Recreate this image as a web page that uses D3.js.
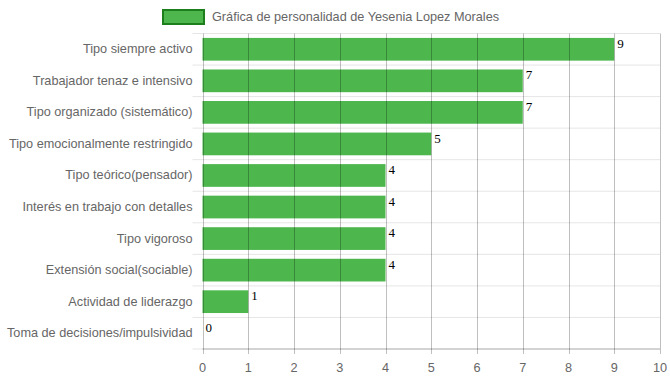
<!DOCTYPE html>
<html>
<head>
<meta charset="utf-8">
<script src="https://cdn.jsdelivr.net/npm/d3@7"></script>
<style>
  body { margin: 0; background: #fff; }
  svg { display: block; font-family: "Liberation Sans", Arial, sans-serif; }
</style>
</head>
<body>
<svg id="chart" width="670" height="377"></svg>
<script>
// chart values
const categories = [
  "Tipo siempre activo",
  "Trabajador tenaz e intensivo",
  "Tipo organizado (sistemático)",
  "Tipo emocionalmente restringido",
  "Tipo teórico(pensador)",
  "Interés en trabajo con detalles",
  "Tipo vigoroso",
  "Extensión social(sociable)",
  "Actividad de liderazgo",
  "Toma de decisiones/impulsividad"
];
const values = [9, 7, 7, 5, 4, 4, 4, 4, 1, 0];
const xTicks = [0, 1, 2, 3, 4, 5, 6, 7, 8, 9, 10];
const seriesName = "Gráfica de personalidad de Yesenia Lopez Morales";

const GREEN = "#4db64d";
const GREEN_BORDER = "#1c7f1c";
const FS = 12.7;

const svg = d3.select("#chart");
const plotL = 202.5, plotR = 660, plotT = 33.5, plotB = 349;

const x = d3.scaleLinear().domain([0, 10]).range([plotL, plotR]);
const y = d3.scaleBand().domain(categories).range([plotT, plotB]);
const barH = y.bandwidth() * 0.72;

// horizontal grid lines (band edges), with small ticks to the left
const edges = d3.range(categories.length + 1).map(i => plotT + i * y.step());
svg.append("g").selectAll("line").data(edges).join("line")
  .attr("x1", plotL - 10).attr("x2", plotR)
  .attr("y1", d => d).attr("y2", d => d)
  .attr("stroke", "rgba(0,0,0,0.1)").attr("stroke-width", 1);

// bars
svg.append("g").selectAll("rect").data(values).join("rect")
  .attr("x", x(0))
  .attr("y", (d, i) => y(categories[i]) + (y.bandwidth() - barH) / 2)
  .attr("width", d => x(d) - x(0))
  .attr("height", barH)
  .attr("fill", GREEN);

// vertical grid lines drawn over the bars
svg.append("g").selectAll("line").data(xTicks).join("line")
  .attr("x1", d => Math.round(x(d)) + 0.5).attr("x2", d => Math.round(x(d)) + 0.5)
  .attr("y1", plotT).attr("y2", plotB + 5)
  .attr("stroke", "rgba(0,0,0,0.25)")
  .attr("stroke-width", 1);

// bottom axis line
svg.append("line")
  .attr("x1", plotL).attr("x2", plotR)
  .attr("y1", plotB).attr("y2", plotB)
  .attr("stroke", "rgba(0,0,0,0.25)");

// x tick labels
svg.append("g").selectAll("text").data(xTicks).join("text")
  .attr("x", d => x(d)).attr("y", 372)
  .attr("text-anchor", "middle")
  .attr("font-size", FS).attr("fill", "#666")
  .text(d => d);

// category labels
svg.append("g").selectAll("text").data(categories).join("text")
  .attr("x", plotL - 10)
  .attr("y", d => y(d) + y.bandwidth() / 2 + 4)
  .attr("text-anchor", "end")
  .attr("font-size", FS).attr("fill", "#666")
  .text(d => d);

// value labels
svg.append("g").selectAll("text").data(values).join("text")
  .attr("x", d => x(d) + 3)
  .attr("y", (d, i) => y(categories[i]) + (y.bandwidth() - barH) / 2 + 10)
  .attr("font-family", "'Liberation Serif', 'Times New Roman', serif")
  .attr("font-size", 13).attr("fill", "#000")
  .text(d => d);

// legend
svg.append("rect")
  .attr("x", 163).attr("y", 10).attr("width", 41).attr("height", 14)
  .attr("fill", GREEN).attr("stroke", GREEN_BORDER).attr("stroke-width", 2);
svg.append("text")
  .attr("x", 212).attr("y", 21)
  .attr("font-size", FS).attr("fill", "#666")
  .text(seriesName);
</script>
</body>
</html>
